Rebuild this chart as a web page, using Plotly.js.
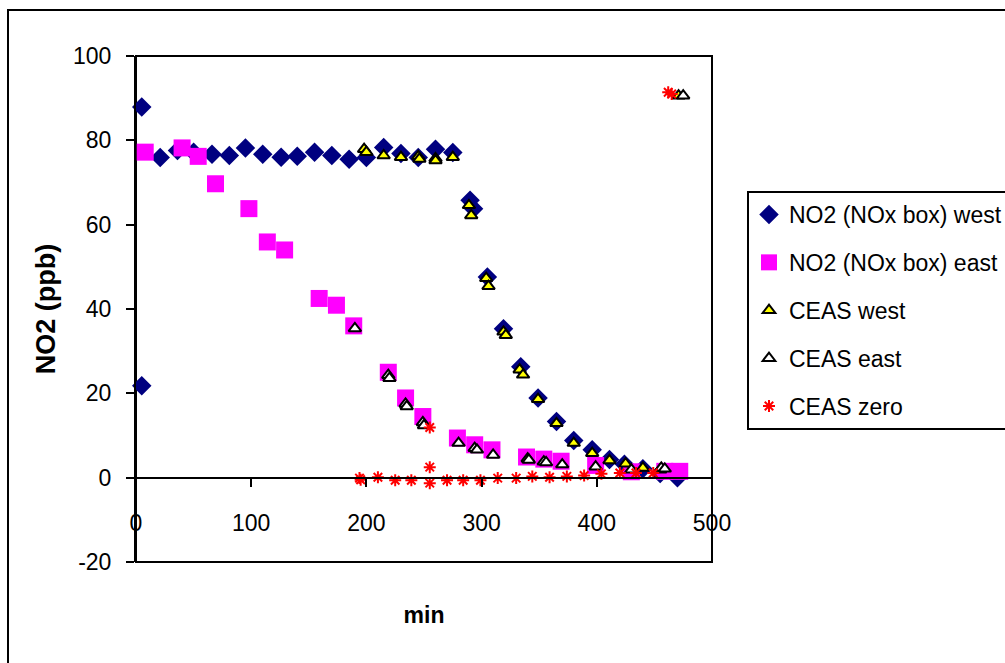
<!DOCTYPE html>
<html>
<head>
<meta charset="utf-8">
<script src="https://cdn.plot.ly/plotly-3.0.1.min.js"></script>
<style>
  html, body { margin: 0; padding: 0; background: #ffffff; }
  #chart { width: 1005px; height: 663px; }
</style>
</head>
<body>
<div id="chart"></div>
<script>
// NO2 (NOx box) west
const westMin = [5, 5, 21, 36, 50, 66, 81, 95, 110, 126, 140, 155, 170, 185, 200, 215, 230, 245, 260, 275,
                 290, 293, 305, 319, 334, 349, 365, 380, 396, 411, 424, 440, 455, 470];
const westNO2 = [87.9, 21.8, 75.9, 77.6, 77.2, 76.7, 76.4, 78.2, 76.7, 76.0, 76.2, 77.2, 76.4, 75.5, 75.9, 78.3, 76.9, 75.9, 77.9, 77.1,
                 65.8, 63.8, 47.6, 35.3, 26.3, 18.9, 13.3, 8.8, 6.6, 4.3, 3.2, 2.1, 1.0, 0.0];

// NO2 (NOx box) east
const eastMin = [8, 40, 54, 69, 98, 114, 129, 159, 174, 189, 219, 234, 249, 279, 294, 309, 339, 354, 369, 399, 430, 459, 472];
const eastNO2 = [77.2, 78.2, 76.2, 69.7, 63.8, 55.9, 54.0, 42.5, 40.9, 36.0, 25.0, 18.9, 14.5, 9.4, 7.8, 6.6, 4.9, 4.4, 3.9, 2.9, 1.4, 1.5, 1.5];

// CEAS west
const ceasWestMin = [198, 200, 215, 230, 245, 246, 260, 260, 275, 289, 291, 304, 306, 319, 321, 333, 336,
                     349, 365, 380, 396, 411, 425, 440, 455, 471];
const ceasWestNO2 = [77.9, 77.2, 76.4, 76.0, 76.2, 75.6, 75.7, 75.2, 76.0, 64.6, 62.2, 47.3, 45.4, 34.6, 33.8, 25.6, 24.4,
                     18.6, 12.9, 8.2, 5.8, 4.1, 3.3, 2.3, 1.9, 90.6];

// CEAS east
const ceasEastMin = [190, 219, 220, 234, 235, 249, 250, 280, 294, 296, 310, 340, 341, 354, 356, 370, 399, 430, 456, 459, 475];
const ceasEastNO2 = [35.4, 24.3, 23.6, 17.5, 16.9, 13.1, 12.4, 8.2, 7.0, 6.6, 5.4, 4.5, 4.2, 3.8, 3.6, 3.1, 2.6, 1.9, 2.3, 2.1, 90.6];

// CEAS zero
const ceasZeroMin = [194, 195, 210, 225, 239, 255, 255, 255, 270, 284, 299, 314, 330, 344, 359, 374, 389, 404, 420, 434, 449, 462, 465];
const ceasZeroNO2 = [-0.1, -0.5, 0.1, -0.6, -0.6, 11.9, 2.5, -1.3, -0.6, -0.6, -0.6, -0.1, -0.1, 0.3, 0.1, 0.3, 0.5, 0.9, 1.1, 1.1, 1.1, 91.4, 91.0];

// Axis ticks
const xTicks = [0, 100, 200, 300, 400, 500];
const yTicks = [-20, 0, 20, 40, 60, 80, 100];

const FONT = 'Liberation Sans, Arial, Helvetica, sans-serif';

function series(name, x, y, marker, group) {
  return { type: 'scatter', mode: 'markers', name: name, x: x, y: y,
           marker: marker, legendgroup: group, cliponaxis: false, hoverinfo: 'x+y+name' };
}

const traces = [
  series('NO2 (NOx box) west', westMin, westNO2,
         { symbol: 'diamond', size: 15, color: '#000080', line: { width: 0 } }, 'g1'),
  series('NO2 (NOx box) east', eastMin, eastNO2,
         { symbol: 'square', size: 17, color: '#FF00FF', line: { width: 0 } }, 'g2'),
  series('CEAS west', ceasWestMin, ceasWestNO2,
         { symbol: 'triangle-up', size: 11, color: '#FFFF00', line: { color: '#000000', width: 2 } }, 'g3'),
  series('CEAS east', ceasEastMin, ceasEastNO2,
         { symbol: 'triangle-up', size: 11, color: '#FFFFFF', line: { color: '#000000', width: 2 } }, 'g4'),
  series('CEAS zero', ceasZeroMin, ceasZeroNO2,
         { symbol: 'asterisk-open', size: 10, color: '#FF0000', line: { color: '#FF0000', width: 2 } }, 'g5')
];

const layout = {
  width: 1005,
  height: 663,
  margin: { l: 136, r: 293, t: 56, b: 101, pad: 0, autoexpand: false },
  paper_bgcolor: '#ffffff',
  plot_bgcolor: '#ffffff',
  font: { family: FONT, size: 23, color: '#000000' },
  showlegend: true,
  xaxis: {
    range: [0, 500],
    tickvals: xTicks,
    ticktext: xTicks.map(String),
    anchor: 'free',
    position: 20 / 120,
    showline: true, linecolor: '#000000', linewidth: 2,
    ticks: 'outside', ticklen: 8, tickwidth: 2, tickcolor: '#000000',
    ticklabelstandoff: 17,
    showgrid: false, zeroline: false,
    tickfont: { family: FONT, size: 23 },
    title: { text: '<b>min</b>', font: { family: FONT, size: 23 }, standoff: 71 }
  },
  yaxis: {
    range: [-20, 100],
    tickvals: yTicks,
    ticktext: yTicks.map(String),
    showline: true, linecolor: '#000000', linewidth: 2,
    ticks: 'outside', ticklen: 8, tickwidth: 2, tickcolor: '#000000',
    ticklabelstandoff: 10,
    showgrid: false, zeroline: false,
    tickfont: { family: FONT, size: 23 },
    title: { text: '<b>NO2 (ppb)</b>', font: { family: FONT, size: 27 }, standoff: 10 }
  },
  legend: {
    x: (747 - 136) / 576, xanchor: 'left',
    y: (562 - 191) / 506, yanchor: 'top',
    bgcolor: '#ffffff',
    bordercolor: '#000000', borderwidth: 2,
    font: { family: FONT, size: 23, color: '#000000' },
    tracegroupgap: 15,
    traceorder: 'grouped',
    itemclick: false, itemdoubleclick: false
  },
  shapes: [
    // plot area frame
    { type: 'rect', xref: 'paper', yref: 'paper', x0: 0, x1: 1, y0: 0, y1: 1,
      line: { color: '#000000', width: 2 }, fillcolor: 'rgba(0,0,0,0)', layer: 'below' },
    // chart area frame
    { type: 'rect', xref: 'paper', yref: 'paper',
      x0: (8 - 136) / 576, x1: 2, y0: -1, y1: (562 - 10) / 506,
      line: { color: '#000000', width: 2 }, fillcolor: 'rgba(0,0,0,0)', layer: 'below' }
  ]
};

Plotly.newPlot('chart', traces, layout, { displayModeBar: false, staticPlot: true });
</script>
</body>
</html>
